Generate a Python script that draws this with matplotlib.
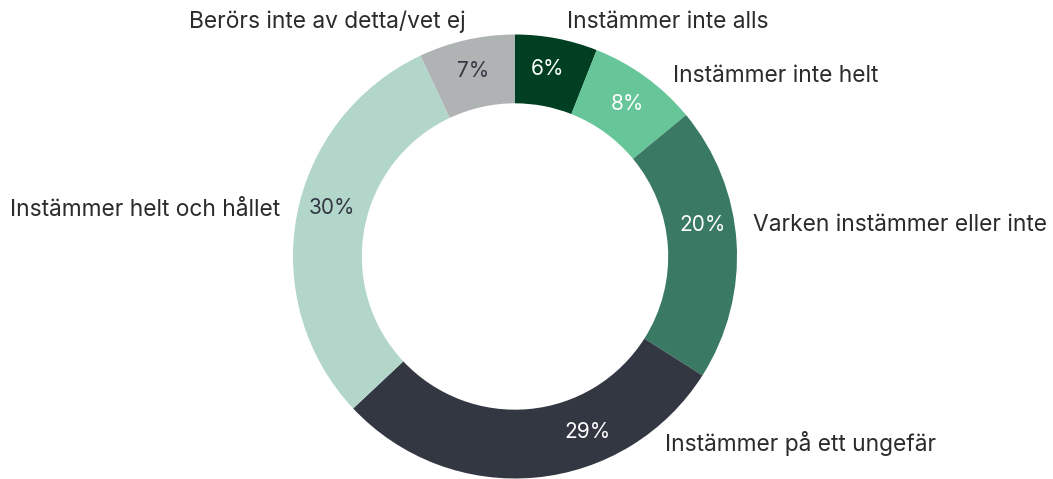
import matplotlib
matplotlib.use("Agg")
import matplotlib.pyplot as plt
import numpy as np

categories = ["Instämmer inte alls", "Instämmer inte helt", "Varken instämmer eller inte",
              "Instämmer på ett ungefär", "Instämmer helt och hållet", "Berörs inte av detta/vet ej"]
values = [6, 8, 20, 29, 30, 7]
pct_labels = ["6%", "8%", "20%", "29%", "30%", "7%"]

colors = ["#003f22", "#66c599", "#3a7a65", "#333742", "#b3d6cb", "#b0b3b4"]
pct_colors = ["white", "white", "white", "white", "#333742", "#333742"]
# angular adjustments (degrees, clockwise) for label placement
pct_shift = [-1, 0.5, -6, -17, 4, 0]
out_shift = [1.7, 5.3, -3.9, -33.3, 0.5, 0.6]
out_ha = ["left", "left", "left", "left", "right", "right"]

W, H = 1053, 479
fig = plt.figure(figsize=(W / 100, H / 100), dpi=100)
ax = fig.add_axes([0, 0, 1, 1])
R = 222.0
cx, cy = 515.0, 256.5

ax.pie(values, colors=colors, startangle=90, counterclock=False, radius=1.0,
       wedgeprops=dict(width=0.31, edgecolor="none", linewidth=0))
ax.set_xlim(-cx / R, (W - cx) / R)
ax.set_ylim(-(H - cy) / R, cy / R)
ax.set_aspect("equal")
ax.axis("off")

font = "Inter"
total = sum(values)
cum = np.cumsum([0] + values[:-1])
for i, v in enumerate(values):
    mid = (cum[i] + v / 2) / total * 360
    a = np.deg2rad(mid + pct_shift[i])
    rp = 0.855
    ax.text(rp * np.sin(a), rp * np.cos(a), pct_labels[i], color=pct_colors[i],
            ha="center", va="center", fontsize=15, family=font)
    b = np.deg2rad(mid + out_shift[i])
    ro = 1.08
    ax.text(ro * np.sin(b), ro * np.cos(b), categories[i], color="#2b2b2b",
            ha=out_ha[i], va="center", fontsize=16.4, family=font)

fig.savefig("out.png", dpi=100, facecolor="white")
